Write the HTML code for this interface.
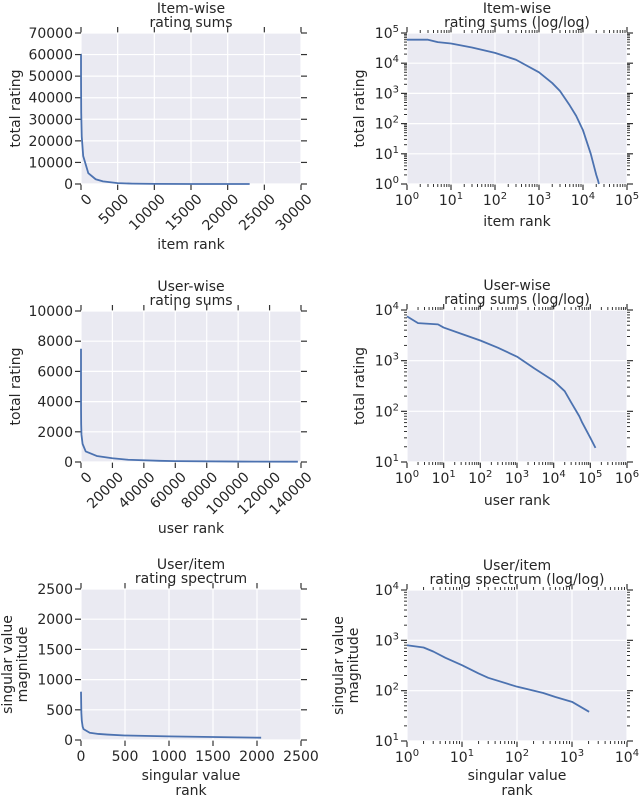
<!DOCTYPE html>
<html><head><meta charset="utf-8">
<style>
body{margin:0;background:#fff;}
svg{display:block;font-family:"DejaVu Sans","Liberation Sans",sans-serif;}
</style></head>
<body>
<svg id="fig" width="640" height="800" viewBox="0 0 640 800"></svg>
<script>
// ---- data ----
const itemRanks = [1,3,5,10,30,100,300,1000,2000,3000,5000,7000,10000,15000,20000,22000,23000];
const itemSums  = [60000,60000,50000,45000,33000,22000,13000,5000,2200,1200,400,180,60,10,2,1.3,1];
const userRanks = [1,2,7,10,30,100,300,1000,3000,10000,20000,30000,50000,60000,100000,138000];
const userSums  = [7500,5500,5200,4500,3400,2500,1800,1200,700,400,250,150,80,60,30,19];
const svRanks   = [1,2,3,5,10,20,30,100,200,300,500,1000,2048];
const svValues  = [800,720,600,450,320,220,180,120,100,90,75,60,38];
const itemLinTicks = [0,5000,10000,15000,20000,25000,30000];
const itemLinYTicks = [0,10000,20000,30000,40000,50000,60000,70000];
const userLinTicks = [0,20000,40000,60000,80000,100000,120000,140000];
const userLinYTicks = [0,2000,4000,6000,8000,10000];
const svLinTicks = [0,500,1000,1500,2000,2500];

const NS="http://www.w3.org/2000/svg";
const fig=document.getElementById('fig');
const FS=14;
function mk(tag,attrs,parent){const e=document.createElementNS(NS,tag);for(const k in attrs)e.setAttribute(k,attrs[k]);(parent||fig).appendChild(e);return e;}

function panel(o){
  const g=mk('g',{});
  
  
  const L=o.x0,R=o.x1,T=o.y0,B=o.y1;
  const sx=o.xlog?(v=>L+(Math.log10(v)-o.xmin)/(o.xmax-o.xmin)*(R-L)):(v=>L+(v-o.xmin)/(o.xmax-o.xmin)*(R-L));
  const sy=o.ylog?(v=>B-(Math.log10(v)-o.ymin)/(o.ymax-o.ymin)*(B-T)):(v=>B-(v-o.ymin)/(o.ymax-o.ymin)*(B-T));
  const bg=mk('rect',{x:L,y:T,width:R-L,height:B-T,fill:'#eaeaf2'},g);
  
  
  const xt=o.xlog?Array.from({length:o.xmax-o.xmin+1},(_,i)=>Math.pow(10,o.xmin+i)):o.xticks;
  const yt=o.ylog?Array.from({length:o.ymax-o.ymin+1},(_,i)=>Math.pow(10,o.ymin+i)):o.yticks;
  const tk='#333';
  xt.forEach((v,i)=>{const x=sx(v);
    mk('line',{x1:x,x2:x,y1:T,y2:B,stroke:'#fff','stroke-width':1.2},g);
    mk('line',{x1:x,x2:x,y1:B,y2:B+6,stroke:tk,'stroke-width':1.2},g);
    mk('line',{x1:x,x2:x,y1:T,y2:T-6,stroke:tk,'stroke-width':1.2},g);
    let t;
    if(o.xrot){t=mk('text',{x:x+5,y:B+9,'font-size':FS,fill:'#262626','text-anchor':'end',transform:`rotate(-45 ${x+5} ${B+9})`,'dominant-baseline':'hanging'},g);t.textContent=v;}
    else if(o.xlog){t=mk('text',{x:x,y:B+21,'font-size':FS,fill:'#262626','text-anchor':'middle'},g);t.innerHTML='10<tspan font-size="10" dy="-6">'+(o.xmin+i)+'</tspan>';}
    else{t=mk('text',{x:x,y:B+21,'font-size':FS,fill:'#262626','text-anchor':'middle'},g);t.textContent=v;}
    
    
  });
  yt.forEach((v,i)=>{const y=sy(v);
    mk('line',{x1:L,x2:R,y1:y,y2:y,stroke:'#fff','stroke-width':1.2},g);
    mk('line',{x1:L-6,x2:L,y1:y,y2:y,stroke:tk,'stroke-width':1.2},g);
    mk('line',{x1:R,x2:R+6,y1:y,y2:y,stroke:tk,'stroke-width':1.2},g);
    const t=mk('text',{x:L-8,y:y+5,'font-size':FS,fill:'#262626','text-anchor':'end'},g);
    if(o.ylog)t.innerHTML='10<tspan font-size="10" dy="-6">'+(o.ymin+i)+'</tspan>';else t.textContent=v;
    
    
  });
  if(o.xlog){for(let d=o.xmin;d<o.xmax;d++)for(let m=2;m<10;m++){const x=sx(m*Math.pow(10,d));
    mk('line',{x1:x,x2:x,y1:B,y2:B+3,stroke:tk,'stroke-width':1},g);mk('line',{x1:x,x2:x,y1:T,y2:T-3,stroke:tk,'stroke-width':1},g);}}
  if(o.ylog){for(let d=o.ymin;d<o.ymax;d++)for(let m=2;m<10;m++){const y=sy(m*Math.pow(10,d));
    mk('line',{x1:L-3,x2:L,y1:y,y2:y,stroke:tk,'stroke-width':1},g);mk('line',{x1:R,x2:R+3,y1:y,y2:y,stroke:tk,'stroke-width':1},g);}}
  const pts=o.xs.map((x,i)=>sx(o.xlin?x-1:x).toFixed(2)+','+sy(Math.max(o.ys[i],1e-9)).toFixed(2)).join(' ');
  const line=mk('polyline',{points:pts,fill:'none',stroke:'#4c72b0','stroke-width':1.8,'stroke-linejoin':'round'},g);
  
  
  const cx=(L+R)/2;
  o.title.forEach((s,i)=>{const t=mk('text',{x:cx,y:T-20+i*14,'font-size':FS,fill:'#262626','text-anchor':'middle'},g);t.textContent=s;
    
    });
  o.xlabel.forEach((s,i)=>{const t=mk('text',{x:cx,y:o.xlabY+i*15,'font-size':FS,fill:'#262626','text-anchor':'middle'},g);t.textContent=s;
    
    });
  const cy=(T+B)/2;
  o.ylabel.forEach((s,i)=>{const x=o.ylabX+i*15;const t=mk('text',{x:x,y:cy,'font-size':FS,fill:'#262626','text-anchor':'middle',transform:`rotate(-90 ${x} ${cy})`},g);t.textContent=s;
    
    });
}

panel({name:'item-sums-linear',x0:81,x1:301,y0:33,y1:184,xmin:0,xmax:30000,ymin:0,ymax:70000,xticks:itemLinTicks,yticks:itemLinYTicks,xrot:true,xlin:true,xs:itemRanks,ys:itemSums,title:['Item-wise','rating sums'],xlabel:['item rank'],xlabY:249,ylabel:['total rating'],ylabX:20});
panel({name:'item-sums-loglog',x0:407,x1:627,y0:33,y1:184,xlog:true,ylog:true,xmin:0,xmax:5,ymin:0,ymax:5,xs:itemRanks,ys:itemSums,title:['Item-wise','rating sums (log/log)'],xlabel:['item rank'],xlabY:226,ylabel:['total rating'],ylabX:364});
panel({name:'user-sums-linear',x0:81,x1:301,y0:311,y1:462,xmin:0,xmax:140000,ymin:0,ymax:10000,xticks:userLinTicks,yticks:userLinYTicks,xrot:true,xlin:true,xs:userRanks,ys:userSums,title:['User-wise','rating sums'],xlabel:['user rank'],xlabY:533,ylabel:['total rating'],ylabX:20});
panel({name:'user-sums-loglog',x0:407,x1:627,y0:310,y1:462,xlog:true,ylog:true,xmin:0,xmax:6,ymin:1,ymax:4,xs:userRanks,ys:userSums,title:['User-wise','rating sums (log/log)'],xlabel:['user rank'],xlabY:505,ylabel:['total rating'],ylabX:364});
panel({name:'spectrum-linear',x0:81,x1:301,y0:589,y1:740,xmin:0,xmax:2500,ymin:0,ymax:2500,xticks:svLinTicks,yticks:svLinTicks,xlin:true,xs:svRanks,ys:svValues,title:['User/item','rating spectrum'],xlabel:['singular value','rank'],xlabY:780,ylabel:['singular value','magnitude'],ylabX:12});
panel({name:'spectrum-loglog',x0:407,x1:627,y0:590,y1:741,xlog:true,ylog:true,xmin:0,xmax:4,ymin:1,ymax:4,xs:svRanks,ys:svValues,title:['User/item','rating spectrum (log/log)'],xlabel:['singular value','rank'],xlabY:780,ylabel:['singular value','magnitude'],ylabX:343});
</script>
</body></html>
